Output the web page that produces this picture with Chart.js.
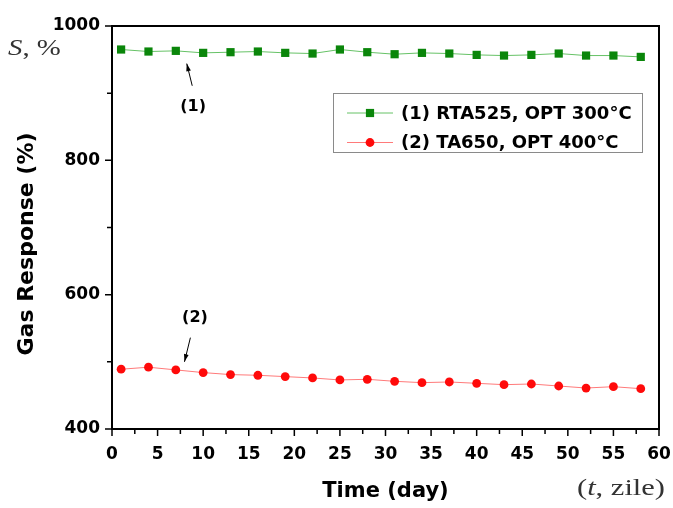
<!DOCTYPE html>
<html lang="en">
<head>
<meta charset="UTF-8" />
<title>Gas Response vs Time</title>
<script src="https://cdn.jsdelivr.net/npm/chart.js"></script>
<style>
  * { box-sizing: border-box; }
  body { margin: 0; background: #fff; }
  #wrap { position: relative; width: 673px; height: 508px; }
</style>
</head>
<body>
<div id="wrap"><canvas id="chart" width="673" height="508"></canvas></div>
<script>
// measurement days and gas response (%) for the two sensors
const days = [1, 4, 7, 10, 13, 16, 19, 22, 25, 28, 31, 34, 37, 40, 43, 46, 49, 52, 55, 58];
const rta525 = [965, 962, 963, 960, 961, 962, 960, 959, 965, 961, 958, 960, 959, 957, 956, 957, 959, 956, 956, 954];
const ta650 = [489, 492, 488, 484, 481, 480, 478, 476, 473, 474, 471, 469, 470, 468, 466, 467, 464, 461, 463, 460];

const seriesLabels = ['(1) RTA525, OPT 300\u00B0C', '(2) TA650, OPT 400\u00B0C'];
const xTicks = [0, 5, 10, 15, 20, 25, 30, 35, 40, 45, 50, 55, 60];
const xMinorTicks = [2.5, 7.5, 12.5, 17.5, 22.5, 27.5, 32.5, 37.5, 42.5, 47.5, 52.5, 57.5];
const yTicks = [400, 600, 800, 1000];
const yMinorTicks = [500, 700, 900];

// callouts "(1)" and "(2)": label position, arrow tail, arrow tip (data units)
const callouts = [
  { text: '(1)', label: [8.9, 879], tail: [8.8, 911], tip: [8.2, 944] },
  { text: '(2)', label: [9.1, 566], tail: [8.6, 536], tip: [7.95, 500] }
];

const TICK_FONT = { family: 'DejaVu Sans', size: 17, weight: 'bold' };
const ink = '#000';

const toPoints = (ys) => days.map((d, i) => ({ x: d, y: ys[i] }));

function arrow(ctx, x1, y1, x2, y2) {
  const a = Math.atan2(y2 - y1, x2 - x1);
  ctx.beginPath();
  ctx.moveTo(x1, y1);
  ctx.lineTo(x2, y2);
  ctx.stroke();
  ctx.beginPath();
  ctx.moveTo(x2, y2);
  ctx.lineTo(x2 - 8 * Math.cos(a - 0.3), y2 - 8 * Math.sin(a - 0.3));
  ctx.lineTo(x2 - 8 * Math.cos(a + 0.3), y2 - 8 * Math.sin(a + 0.3));
  ctx.closePath();
  ctx.fill();
}

// serif text made of plain and italic runs, stretched a little sideways
function serifRuns(ctx, runs, x, y, size, stretch) {
  ctx.save();
  ctx.translate(x, y);
  ctx.scale(stretch, 1);
  let cx = 0;
  runs.forEach(([txt, italic]) => {
    ctx.font = (italic ? 'italic ' : '') + size + 'px "Liberation Serif"';
    ctx.fillText(txt, cx, 0);
    cx += ctx.measureText(txt).width;
  });
  ctx.restore();
}

const decorations = {
  id: 'decorations',
  afterDraw(chart) {
    const { ctx, chartArea: ca, scales: { x, y } } = chart;
    ctx.save();

    // top and right edges of the frame
    ctx.strokeStyle = ink;
    ctx.lineWidth = 2;
    ctx.beginPath();
    ctx.moveTo(ca.left, ca.top);
    ctx.lineTo(ca.right, ca.top);
    ctx.lineTo(ca.right, ca.bottom);
    ctx.stroke();

    // outward ticks on the bottom and left axes
    ctx.lineWidth = 1.5;
    ctx.beginPath();
    xTicks.forEach(v => { const px = x.getPixelForValue(v); ctx.moveTo(px, ca.bottom); ctx.lineTo(px, ca.bottom + 7); });
    xMinorTicks.forEach(v => { const px = x.getPixelForValue(v); ctx.moveTo(px, ca.bottom); ctx.lineTo(px, ca.bottom + 5); });
    yTicks.forEach(v => { const py = y.getPixelForValue(v); ctx.moveTo(ca.left, py); ctx.lineTo(ca.left - 7, py); });
    yMinorTicks.forEach(v => { const py = y.getPixelForValue(v); ctx.moveTo(ca.left, py); ctx.lineTo(ca.left - 5, py); });
    ctx.stroke();

    // y axis title
    ctx.fillStyle = ink;
    ctx.font = 'bold 22px "DejaVu Sans"';
    ctx.textAlign = 'center';
    ctx.textBaseline = 'middle';
    ctx.save();
    ctx.translate(27, 244);
    ctx.rotate(-Math.PI / 2);
    ctx.fillText('Gas Response (%)', 0, 0);
    ctx.restore();

    // callouts
    ctx.lineWidth = 1;
    ctx.font = 'bold 16px "DejaVu Sans"';
    callouts.forEach(c => {
      ctx.fillText(c.text, x.getPixelForValue(c.label[0]), y.getPixelForValue(c.label[1]));
      arrow(ctx, x.getPixelForValue(c.tail[0]), y.getPixelForValue(c.tail[1]),
                 x.getPixelForValue(c.tip[0]), y.getPixelForValue(c.tip[1]));
    });

    // legend box
    ctx.strokeStyle = '#8a8a8a';
    ctx.lineWidth = 1;
    ctx.strokeRect(333.5, 93.5, 309, 59);
    ctx.textAlign = 'left';
    ctx.font = 'bold 18px "DejaVu Sans"';
    chart.data.datasets.forEach((ds, i) => {
      const ry = 113 + i * 29.5;
      ctx.strokeStyle = ds.borderColor;
      ctx.lineWidth = ds.borderWidth;
      ctx.beginPath();
      ctx.moveTo(347, ry);
      ctx.lineTo(393, ry);
      ctx.stroke();
      ctx.fillStyle = ds.pointBackgroundColor;
      Chart.helpers.drawPoint(ctx, { pointStyle: ds.pointStyle, radius: ds.pointRadius, rotation: 0, borderWidth: 0 }, 370, ry);
      ctx.fillStyle = ink;
      ctx.fillText(ds.label, 401, ry + 1);
    });

    // unit labels in serif
    ctx.fillStyle = '#333';
    ctx.textBaseline = 'alphabetic';
    serifRuns(ctx, [['S', true], [', %', false]], 8, 55, 24, 1.2);
    serifRuns(ctx, [['(', false], ['t', true], [', zile)', false]], 577, 495, 24, 1.27);

    ctx.restore();
  }
};

new Chart(document.getElementById('chart'), {
  type: 'line',
  data: {
    datasets: [
      {
        label: seriesLabels[0],
        data: toPoints(rta525),
        borderColor: '#66c266',
        borderWidth: 1,
        pointStyle: 'rect',
        pointRadius: 5.8,
        pointBackgroundColor: '#0a860a',
        pointBorderWidth: 0
      },
      {
        label: seriesLabels[1],
        data: toPoints(ta650),
        borderColor: '#ff7a7a',
        borderWidth: 1,
        pointStyle: 'circle',
        pointRadius: 4.4,
        pointBackgroundColor: '#ff0a0a',
        pointBorderWidth: 0
      }
    ]
  },
  options: {
    responsive: false,
    animation: false,
    devicePixelRatio: 1,
    layout: { padding: { top: 26, right: 14, left: 0, bottom: 0 } },
    plugins: { legend: { display: false }, tooltip: { enabled: false } },
    scales: {
      x: {
        type: 'linear',
        min: 0,
        max: 60,
        afterBuildTicks: s => { s.ticks = xTicks.map(v => ({ value: v })); },
        afterFit: s => { s.height = 79; s.paddingLeft = 0; s.paddingRight = 0; },
        ticks: { font: TICK_FONT, color: ink, padding: 15, maxRotation: 0, callback: v => String(v) },
        grid: { display: false, drawTicks: false },
        border: { color: ink, width: 2 },
        title: { display: true, text: 'Time (day)', color: ink, font: { family: 'DejaVu Sans', size: 21, weight: 'bold' }, padding: { top: 15 } }
      },
      y: {
        min: 400,
        max: 1000,
        afterBuildTicks: s => { s.ticks = yTicks.map(v => ({ value: v })); },
        afterFit: s => { s.width = 112; s.paddingTop = 0; s.paddingBottom = 0; },
        ticks: { font: TICK_FONT, color: ink, padding: 12, callback: v => String(v) },
        grid: { display: false, drawTicks: false },
        border: { color: ink, width: 2 }
      }
    }
  },
  plugins: [decorations]
});
</script>
</body>
</html>
